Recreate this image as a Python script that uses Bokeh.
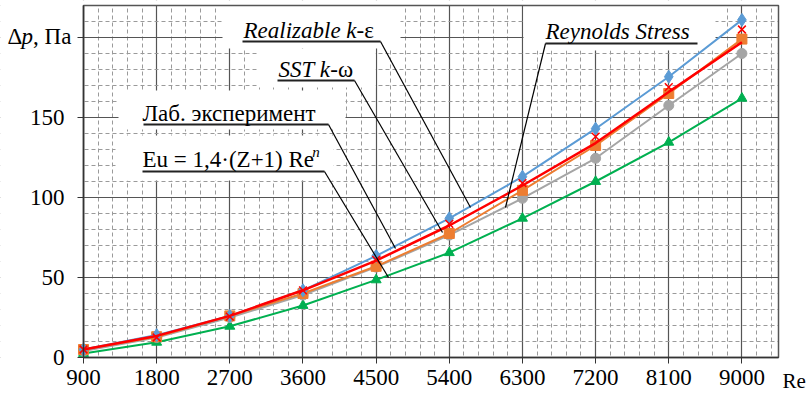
from bokeh.plotting import figure
from bokeh.models import FixedTicker, Label, Range1d
from bokeh.embed import file_html
from bokeh.resources import INLINE

# ---------------- data ----------------
re_ticks = [900, 1800, 2700, 3600, 4500, 5400, 6300, 7200, 8100, 9000]
re_vals = [900, 1800, 2700, 3600, 4500, 5400, 6300, 7200, 8100, 9000]
y_ticks = [0, 50, 100, 150, 200]

realizable = [5, 14, 26, 42, 63.5, 87, 113, 143, 175.5, 211]
sst = [5, 13, 26, 40, 57, 77.5, 104.5, 132.5, 165, 199]
reynolds = [4, 12.5, 25, 39, 56.5, 76.5, 99.5, 124.5, 157.5, 190]
lab_points = [5, 12.5, 25.5, 42, 61, 83.5, 109, 138, 169, 205]
lab_trend = [5, 13.5, 26, 42, 60.6, 82.5, 107.5, 134, 166, 197]
eu_formula = [2.5, 9.5, 19.5, 32.5, 48.5, 65.5, 87, 110, 134.5, 162]

# ---------------- geometry ----------------
X0, X1 = 900, 9450          # plot box in data units
Y0, Y1 = 0, 220
FL, FR, FT, FB = 83, 778, 5, 357   # plot box in pixels
W, H = 810, 397


def dx(px):
    return X0 + (px - FL) * (X1 - X0) / (FR - FL)


def dy(py):
    return Y0 + (FB - py) * (Y1 - Y0) / (FB - FT)


SERIF = "Liberation Serif, Times New Roman, serif"
FS = 23          # annotation font size (px)
TFS = 23         # tick font size (px)
BASE_FIX = 6     # rendered baseline sits lower than requested

# frame covers the whole canvas; axes are placed at fixed locations
p = figure(width=W, height=H, output_backend="svg", toolbar_location=None,
           x_range=Range1d(dx(0), dx(W)), y_range=Range1d(dy(H), dy(0)),
           min_border=0)
p.background_fill_color = "white"
p.border_fill_color = "white"
p.outline_line_color = None

x_minor = [v for v in range(900, 9451, 180) if v not in re_ticks]
y_minor = [v for v in range(0, 221, 10) if v not in y_ticks]
p.xaxis.ticker = FixedTicker(ticks=re_ticks, minor_ticks=x_minor)
p.yaxis.ticker = FixedTicker(ticks=y_ticks, minor_ticks=y_minor)
p.xaxis.fixed_location = Y0
p.yaxis.fixed_location = X0
p.xaxis.bounds = (X0, X1)
p.yaxis.bounds = (Y0, Y1)

for g in (p.xgrid, p.ygrid):
    g.grid_line_color = "#555555"
    g.grid_line_width = 1.2
    g.minor_grid_line_color = "#9a9a9a"
    g.minor_grid_line_dash = "4 3"
    g.minor_grid_line_width = 1

for ax in (p.xaxis, p.yaxis):
    ax.axis_line_color = "#333333"
    ax.axis_line_width = 1.5
    ax.major_tick_line_color = "#333333"
    ax.major_tick_out = 6
    ax.major_tick_in = 0
    ax.minor_tick_out = 0
    ax.minor_tick_in = 0
    ax.major_label_text_font = SERIF
    ax.major_label_text_font_size = f"{TFS}px"
    ax.major_label_text_color = "black"

p.xaxis.major_label_standoff = 6
p.yaxis.major_label_standoff = 13
p.yaxis.major_label_overrides = {200: ""}

# white margins outside the plot box (hide grid there)
xl, xr = dx(0), dx(W)
yb, yt = dy(H), dy(0)
p.quad(left=[xl, X1, xl, xl], right=[X0, xr, xr, xr],
       bottom=[yb, yb, yb, Y1], top=[yt, yt, Y0, yt],
       fill_color="white", line_color=None)

# white label boxes (pixels: left, right, top, bottom)
boxes = [
    (222, 400, 5, 48),
    (257, 375, 48, 87),
    (118, 345, 90, 129),
    (115, 333, 135, 180),
    (523, 715, 5, 50),
]
p.quad(left=[dx(b[0]) for b in boxes], right=[dx(b[1]) for b in boxes],
       top=[dy(b[2]) for b in boxes], bottom=[dy(b[3]) for b in boxes],
       fill_color="white", line_color=None)

# plot box border (top / right)
p.quad(left=[X0], right=[X1], bottom=[Y0], top=[Y1],
       fill_color=None, line_color="#555555", line_width=1.5)

# ---------------- series ----------------
GREEN = "#00B050"
GRAY = "#A5A5A5"
ORANGE = "#ED7D31"
BLUE = "#5B9BD5"
RED = "#FF0000"

p.line(re_vals, eu_formula, line_color=GREEN, line_width=2)
p.scatter(re_vals, eu_formula, marker="triangle", size=10, fill_color=GREEN, line_color=GREEN)

p.line(re_vals, reynolds, line_color=GRAY, line_width=2)
p.scatter(re_vals, reynolds, marker="circle", size=10, fill_color=GRAY, line_color=GRAY)

p.line(re_vals, sst, line_color=ORANGE, line_width=2)
p.scatter(re_vals, sst, marker="square", size=10, fill_color=ORANGE, line_color=ORANGE)

p.line(re_vals, realizable, line_color=BLUE, line_width=2)
p.scatter(re_vals, realizable, marker="diamond", size=13, fill_color=BLUE, line_color=BLUE)

p.scatter(re_vals, lab_points, marker="x", size=11, line_color=RED, line_width=1.5)
p.line(re_vals, lab_trend, line_color=RED, line_width=2.5)

# ---------------- annotations: underline + leader lines ----------------
underlines = [  # x0, x1, y  (pixels)
    (242, 380, 41),
    (277, 354, 80),
    (143, 328, 124),
    (142, 324, 171),
    (545, 697, 43),
]
p.segment(x0=[dx(u[0]) for u in underlines], x1=[dx(u[1]) for u in underlines],
          y0=[dy(u[2]) for u in underlines], y1=[dy(u[2]) for u in underlines],
          line_color="#222222", line_width=2)

leaders = [  # from (x0, y0) to (x1, y1), pixels
    (380, 41, 470, 207),
    (354, 80, 442, 232),
    (328, 124, 395, 248),
    (324, 171, 388, 277),
    (545, 43, 505, 207),
]
p.segment(x0=[dx(l[0]) for l in leaders], y0=[dy(l[1]) for l in leaders],
          x1=[dx(l[2]) for l in leaders], y1=[dy(l[3]) for l in leaders],
          line_color="black", line_width=1.2)


def label(px, py, text, size=FS, style="normal"):
    p.add_layout(Label(x=dx(px), y=dy(py - BASE_FIX), text=text, text_font=SERIF,
                       text_font_size=f"{size}px", text_font_style=style,
                       text_color="black", text_align="left",
                       text_baseline="alphabetic"))


# Realizable k-ε
label(243, 36, "Realizable k", style="italic")
label(243 + 4.916 * FS, 36, "-ε")
# SST k-ω
label(278, 75, "SST k", style="italic")
label(278 + 2.25 * FS, 75, "-ω")
# Lab experiment
label(142, 119, "Лаб. эксперимент")
# Eu formula
label(142, 165, "Eu = 1,4·(Z+1) Re")
label(142 + 7.377 * FS, 157, "n", size=15, style="italic")
# Reynolds Stress
label(545, 37, "Reynolds Stress", style="italic")

# axis titles
label(7, 42, "Δ", size=TFS)
label(7 + 0.612 * TFS, 42, "p", size=TFS, style="italic")
label(7 + 1.112 * TFS, 42, ", Па", size=TFS)
label(782, 386, "Re", size=21)

open("out.html", "w").write(file_html(p, INLINE))
